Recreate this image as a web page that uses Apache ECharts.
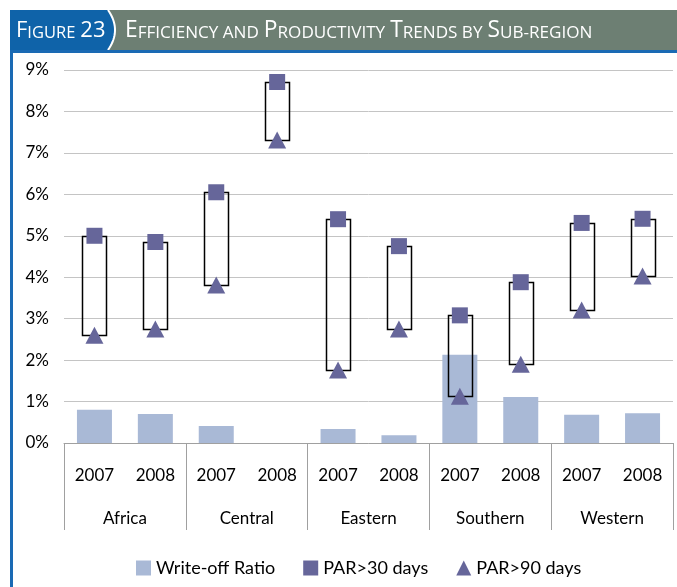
<!DOCTYPE html>
<html>
<head>
<meta charset="utf-8">
<script src="https://cdn.jsdelivr.net/npm/echarts@6/dist/echarts.min.js"></script>
<style>html,body{margin:0;padding:0;background:#fff;}#c{width:677px;height:587px;}</style>
</head>
<body>
<div id="c"></div>
<script>
var years = ['2007','2008','2007','2008','2007','2008','2007','2008','2007','2008'];
var regions = ['Africa','Central','Eastern','Southern','Western'];
var writeOff = [0.80, 0.70, 0.41, 0, 0.34, 0.19, 2.13, 1.11, 0.68, 0.72];
var par30 = [5.00, 4.85, 6.05, 8.71, 5.40, 4.75, 3.08, 3.88, 5.31, 5.41];
var par90 = [2.60, 2.75, 3.81, 7.31, 1.76, 2.75, 1.13, 1.90, 3.21, 4.03];
var yTicks = [0, 1, 2, 3, 4, 5, 6, 7, 8, 9];

var boxData = par30.map(function (v, i) { return [i, par90[i], v]; });
var FONT = 'Lato';

// decorative curve for the title tab
var curve = [];
for (var t = 0; t <= 20; t++) {
  var u = t / 20;
  var cx = (1 - u) * (1 - u) * 108 + 2 * (1 - u) * u * 122 + u * u * 108;
  var cy = (1 - u) * (1 - u) * 10 + 2 * (1 - u) * u * 30 + u * u * 50;
  curve.push([cx, cy]);
}
var tabPoly = [[10, 10]].concat(curve).concat([[10, 50]]);

var chart = echarts.init(document.getElementById('c'), null, {renderer: 'canvas'});
var richT = {
  b: {fontFamily: 'Open Sans', fontSize: 22, fontWeight: 'normal', color: '#fff', verticalAlign: 'bottom'},
  s: {fontFamily: 'Open Sans', fontSize: 16.5, fontWeight: 'normal', color: '#fff', verticalAlign: 'bottom'}
};
var richT2 = {
  b: {fontFamily: 'Open Sans', fontSize: 22.8, fontWeight: 'normal', color: '#fff', verticalAlign: 'bottom'},
  s: {fontFamily: 'Open Sans', fontSize: 17.1, fontWeight: 'normal', color: '#fff', verticalAlign: 'bottom'}
};
var option = {
  animation: false,
  title: [
    {
      left: 11, top: 15,
      text: '{b|F}{s|IGURE} {b|23}',
      textStyle: {fontWeight: 'normal', rich: richT}
    },
    {
      left: 120, top: 14,
      text: '{b|E}{s|FFICIENCY AND} {b|P}{s|RODUCTIVITY} {b|T}{s|RENDS BY} {b|S}{s|UB-REGION}',
      textStyle: {fontWeight: 'normal', rich: richT2}
    }
  ],
  graphic: [
    {type: 'rect', z: -10, shape: {x: 10, y: 10, width: 667, height: 40}, style: {fill: '#6d7f73'}},
    {type: 'polygon', z: -9, shape: {points: tabPoly}, style: {fill: '#0f63a9'}},
    {type: 'polyline', z: -8, shape: {points: curve}, style: {fill: null, stroke: '#fff', lineWidth: 2}},
    {type: 'rect', z: -7, shape: {x: 10, y: 50, width: 667, height: 3}, style: {fill: '#1a6ab4'}},
    {type: 'rect', z: -7, shape: {x: 10, y: 50, width: 3, height: 537}, style: {fill: '#1a6ab4'}}
  ],
  legend: {
    left: 136, top: 559, padding: 0,
    itemWidth: 15, itemHeight: 15, itemGap: 28,
    textStyle: {fontFamily: FONT, fontSize: 18, color: '#000'},
    data: [
      {name: 'Write-off Ratio', icon: 'rect'},
      {name: 'PAR>30 days', icon: 'rect'},
      {name: 'PAR>90 days', icon: 'triangle'}
    ]
  },
  grid: {left: 64, right: 4, top: 70, bottom: 144, containLabel: false},
  xAxis: [
    {
      type: 'category', data: years, position: 'bottom',
      axisLine: {show: true, lineStyle: {color: '#a0a0a0', width: 1}},
      axisTick: {show: false},
      axisLabel: {fontFamily: FONT, fontSize: 17, color: '#000', margin: 24},
      splitLine: {show: false}
    },
    {
      type: 'category', data: regions, position: 'bottom',
      axisLine: {show: false},
      axisTick: {show: true, length: 87, lineStyle: {color: '#a0a0a0', width: 1}},
      axisLabel: {fontFamily: FONT, fontSize: 17, color: '#000', margin: 67},
      splitLine: {show: false}
    }
  ],
  yAxis: {
    type: 'value', min: 0, max: 9, interval: 1,
    axisLine: {show: false}, axisTick: {show: false},
    axisLabel: {fontFamily: FONT, fontSize: 17, color: '#000', margin: 15, formatter: '{value}%'},
    splitLine: {lineStyle: {color: '#c4c4c4', width: 1}}
  },
  series: [
    {
      name: 'Write-off Ratio', type: 'bar', data: writeOff, barWidth: 35,
      itemStyle: {color: '#a9b9d6'}, z: 2
    },
    {
      name: 'range', type: 'custom', data: boxData, z: 3,
      encode: {x: 0, y: [1, 2]},
      renderItem: function (params, api) {
        var lo = api.coord([api.value(0), api.value(1)]);
        var hi = api.coord([api.value(0), api.value(2)]);
        var w = 24;
        return {
          type: 'rect',
          shape: {x: Math.round(lo[0] - w / 2) + 0.5, y: Math.round(hi[1]) + 0.5, width: w, height: Math.round(lo[1]) - Math.round(hi[1])},
          style: {fill: 'none', stroke: '#000', lineWidth: 1.5}
        };
      }
    },
    {
      name: 'PAR>30 days', type: 'scatter', data: par30, symbol: 'rect', symbolSize: 16,
      itemStyle: {color: '#66669a', opacity: 1}, z: 5
    },
    {
      name: 'PAR>90 days', type: 'scatter', data: par90, symbol: 'triangle', symbolSize: [18, 17],
      itemStyle: {color: '#66669a', opacity: 1}, z: 5
    }
  ]
};
chart.setOption(option);
</script>
</body>
</html>
